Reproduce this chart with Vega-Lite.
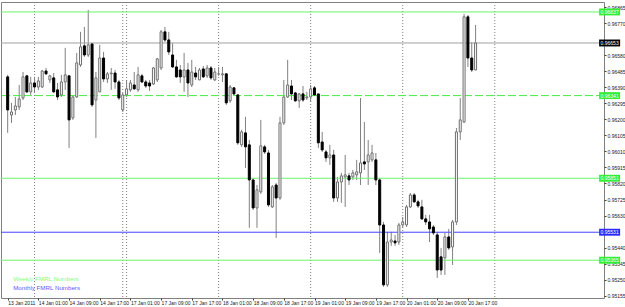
{
  "$schema": "https://vega.github.io/schema/vega-lite/v6.json",
  "width": 603,
  "height": 296,
  "autosize": {"type": "none"},
  "padding": {"left": 1, "top": 2, "right": 21, "bottom": 9},
  "background": "white",
  "config": {
    "view": {"stroke": "#808080", "strokeWidth": 1},
    "font": "Liberation Sans",
    "axis": {"grid": false, "labelOverlap": false}
  },
  "datasets": {
    "candles": [
      {"i":0,"o":0.96452,"h":0.96464,"l":0.96120,"c":0.96256},
      {"i":1,"o":0.96226,"h":0.96298,"l":0.96179,"c":0.96244},
      {"i":2,"o":0.96256,"h":0.96333,"l":0.96226,"c":0.96280},
      {"i":3,"o":0.96274,"h":0.96404,"l":0.96256,"c":0.96321},
      {"i":4,"o":0.96327,"h":0.96481,"l":0.96315,"c":0.96452},
      {"i":5,"o":0.96458,"h":0.96464,"l":0.96357,"c":0.96363},
      {"i":6,"o":0.96363,"h":0.96452,"l":0.96345,"c":0.96416},
      {"i":7,"o":0.96416,"h":0.96452,"l":0.96357,"c":0.96392},
      {"i":8,"o":0.96392,"h":0.96452,"l":0.96375,"c":0.96428},
      {"i":9,"o":0.96392,"h":0.96493,"l":0.96387,"c":0.96487},
      {"i":10,"o":0.96487,"h":0.96505,"l":0.96464,"c":0.96470},
      {"i":11,"o":0.96434,"h":0.96464,"l":0.96416,"c":0.96458},
      {"i":12,"o":0.96446,"h":0.96475,"l":0.96357,"c":0.96363},
      {"i":13,"o":0.96375,"h":0.96416,"l":0.96315,"c":0.96333},
      {"i":14,"o":0.96345,"h":0.96464,"l":0.96333,"c":0.96422},
      {"i":15,"o":0.96422,"h":0.96624,"l":0.96375,"c":0.96464},
      {"i":16,"o":0.96458,"h":0.96464,"l":0.96031,"c":0.96197},
      {"i":17,"o":0.96209,"h":0.96345,"l":0.96197,"c":0.96333},
      {"i":18,"o":0.96333,"h":0.96594,"l":0.96327,"c":0.96535},
      {"i":19,"o":0.96523,"h":0.96719,"l":0.96511,"c":0.96630},
      {"i":20,"o":0.96636,"h":0.96748,"l":0.96570,"c":0.96582},
      {"i":21,"o":0.96582,"h":0.96849,"l":0.96570,"c":0.96642},
      {"i":22,"o":0.96647,"h":0.96653,"l":0.96274,"c":0.96286},
      {"i":23,"o":0.96315,"h":0.96481,"l":0.96090,"c":0.96446},
      {"i":24,"o":0.96363,"h":0.96642,"l":0.96363,"c":0.96564},
      {"i":25,"o":0.96564,"h":0.96600,"l":0.96422,"c":0.96440},
      {"i":26,"o":0.96440,"h":0.96481,"l":0.96416,"c":0.96470},
      {"i":27,"o":0.96470,"h":0.96505,"l":0.96375,"c":0.96475},
      {"i":28,"o":0.96475,"h":0.96493,"l":0.96381,"c":0.96422},
      {"i":29,"o":0.96422,"h":0.96434,"l":0.96315,"c":0.96327},
      {"i":30,"o":0.96256,"h":0.96357,"l":0.96244,"c":0.96345},
      {"i":31,"o":0.96345,"h":0.96434,"l":0.96333,"c":0.96381},
      {"i":32,"o":0.96375,"h":0.96434,"l":0.96363,"c":0.96416},
      {"i":33,"o":0.96404,"h":0.96481,"l":0.96375,"c":0.96381},
      {"i":34,"o":0.96375,"h":0.96511,"l":0.96363,"c":0.96464},
      {"i":35,"o":0.96458,"h":0.96470,"l":0.96416,"c":0.96422},
      {"i":36,"o":0.96422,"h":0.96434,"l":0.96387,"c":0.96398},
      {"i":37,"o":0.96416,"h":0.96434,"l":0.96369,"c":0.96398},
      {"i":38,"o":0.96410,"h":0.96511,"l":0.96404,"c":0.96505},
      {"i":39,"o":0.96434,"h":0.96564,"l":0.96422,"c":0.96559},
      {"i":40,"o":0.96505,"h":0.96730,"l":0.96493,"c":0.96719},
      {"i":41,"o":0.96719,"h":0.96748,"l":0.96659,"c":0.96671},
      {"i":42,"o":0.96671,"h":0.96719,"l":0.96582,"c":0.96600},
      {"i":43,"o":0.96582,"h":0.96653,"l":0.96505,"c":0.96511},
      {"i":44,"o":0.96511,"h":0.96553,"l":0.96446,"c":0.96452},
      {"i":45,"o":0.96493,"h":0.96523,"l":0.96416,"c":0.96452},
      {"i":46,"o":0.96452,"h":0.96594,"l":0.96363,"c":0.96493},
      {"i":47,"o":0.96493,"h":0.96535,"l":0.96333,"c":0.96416},
      {"i":48,"o":0.96404,"h":0.96553,"l":0.96392,"c":0.96481},
      {"i":49,"o":0.96475,"h":0.96511,"l":0.96434,"c":0.96452},
      {"i":50,"o":0.96434,"h":0.96505,"l":0.96434,"c":0.96493},
      {"i":51,"o":0.96499,"h":0.96517,"l":0.96446,"c":0.96452},
      {"i":52,"o":0.96458,"h":0.96523,"l":0.96446,"c":0.96505},
      {"i":53,"o":0.96505,"h":0.96517,"l":0.96434,"c":0.96446},
      {"i":54,"o":0.96434,"h":0.96505,"l":0.96428,"c":0.96481},
      {"i":55,"o":0.96470,"h":0.96511,"l":0.96458,"c":0.96470},
      {"i":56,"o":0.96464,"h":0.96511,"l":0.96422,"c":0.96470},
      {"i":57,"o":0.96470,"h":0.96475,"l":0.96286,"c":0.96298},
      {"i":58,"o":0.96310,"h":0.96404,"l":0.96298,"c":0.96392},
      {"i":59,"o":0.96387,"h":0.96392,"l":0.96345,"c":0.96351},
      {"i":60,"o":0.96345,"h":0.96351,"l":0.96049,"c":0.96061},
      {"i":61,"o":0.96049,"h":0.96138,"l":0.96037,"c":0.96126},
      {"i":62,"o":0.96120,"h":0.96215,"l":0.95912,"c":0.96037},
      {"i":63,"o":0.96049,"h":0.96078,"l":0.95557,"c":0.95841},
      {"i":64,"o":0.95841,"h":0.95853,"l":0.95663,"c":0.95675},
      {"i":65,"o":0.95675,"h":0.95811,"l":0.95557,"c":0.95782},
      {"i":66,"o":0.95770,"h":0.96197,"l":0.95758,"c":0.96043},
      {"i":67,"o":0.96037,"h":0.96049,"l":0.95995,"c":0.96007},
      {"i":68,"o":0.96001,"h":0.96019,"l":0.95681,"c":0.95693},
      {"i":69,"o":0.95681,"h":0.95811,"l":0.95675,"c":0.95800},
      {"i":70,"o":0.95811,"h":0.95823,"l":0.95497,"c":0.95734},
      {"i":71,"o":0.95734,"h":0.96215,"l":0.95723,"c":0.96179},
      {"i":72,"o":0.96179,"h":0.96434,"l":0.96167,"c":0.96333},
      {"i":73,"o":0.96333,"h":0.96553,"l":0.96327,"c":0.96404},
      {"i":74,"o":0.96398,"h":0.96434,"l":0.96315,"c":0.96351},
      {"i":75,"o":0.96357,"h":0.96363,"l":0.96304,"c":0.96310},
      {"i":76,"o":0.96310,"h":0.96357,"l":0.96268,"c":0.96351},
      {"i":77,"o":0.96351,"h":0.96398,"l":0.96304,"c":0.96315},
      {"i":78,"o":0.96327,"h":0.96363,"l":0.96315,"c":0.96333},
      {"i":79,"o":0.96333,"h":0.96404,"l":0.96304,"c":0.96381},
      {"i":80,"o":0.96387,"h":0.96398,"l":0.96339,"c":0.96345},
      {"i":81,"o":0.96351,"h":0.96351,"l":0.96031,"c":0.96061},
      {"i":82,"o":0.96066,"h":0.96126,"l":0.96007,"c":0.96019},
      {"i":83,"o":0.96007,"h":0.96019,"l":0.95948,"c":0.95972},
      {"i":84,"o":0.95972,"h":0.96049,"l":0.95930,"c":0.95989},
      {"i":85,"o":0.95989,"h":0.96019,"l":0.95711,"c":0.95734},
      {"i":86,"o":0.95734,"h":0.95859,"l":0.95711,"c":0.95829},
      {"i":87,"o":0.95829,"h":0.95883,"l":0.95705,"c":0.95865},
      {"i":88,"o":0.95859,"h":0.95989,"l":0.95681,"c":0.95871},
      {"i":89,"o":0.95865,"h":0.95883,"l":0.95811,"c":0.95841},
      {"i":90,"o":0.95859,"h":0.95900,"l":0.95841,"c":0.95883},
      {"i":91,"o":0.95871,"h":0.95960,"l":0.95841,"c":0.95889},
      {"i":92,"o":0.95883,"h":0.96327,"l":0.95811,"c":0.95942},
      {"i":93,"o":0.95948,"h":0.96185,"l":0.95900,"c":0.95936},
      {"i":94,"o":0.95948,"h":0.96078,"l":0.95811,"c":0.95989},
      {"i":95,"o":0.95960,"h":0.96049,"l":0.95948,"c":0.96001},
      {"i":96,"o":0.95960,"h":0.96001,"l":0.95811,"c":0.95841},
      {"i":97,"o":0.95841,"h":0.95853,"l":0.95408,"c":0.95574},
      {"i":98,"o":0.95574,"h":0.95592,"l":0.95207,"c":0.95219},
      {"i":99,"o":0.95219,"h":0.95533,"l":0.95207,"c":0.95473},
      {"i":100,"o":0.95473,"h":0.95533,"l":0.95450,"c":0.95485},
      {"i":101,"o":0.95479,"h":0.95515,"l":0.95450,"c":0.95468},
      {"i":102,"o":0.95473,"h":0.95586,"l":0.95456,"c":0.95574},
      {"i":103,"o":0.95574,"h":0.95622,"l":0.95557,"c":0.95592},
      {"i":104,"o":0.95574,"h":0.95693,"l":0.95562,"c":0.95681},
      {"i":105,"o":0.95681,"h":0.95764,"l":0.95675,"c":0.95752},
      {"i":106,"o":0.95752,"h":0.95764,"l":0.95705,"c":0.95711},
      {"i":107,"o":0.95711,"h":0.95723,"l":0.95675,"c":0.95687},
      {"i":108,"o":0.95681,"h":0.95723,"l":0.95604,"c":0.95610},
      {"i":109,"o":0.95610,"h":0.95634,"l":0.95574,"c":0.95592},
      {"i":110,"o":0.95592,"h":0.95634,"l":0.95473,"c":0.95551},
      {"i":111,"o":0.95562,"h":0.95574,"l":0.95515,"c":0.95527},
      {"i":112,"o":0.95515,"h":0.95533,"l":0.95260,"c":0.95307},
      {"i":113,"o":0.95385,"h":0.95438,"l":0.95278,"c":0.95307},
      {"i":114,"o":0.95379,"h":0.95527,"l":0.95278,"c":0.95503},
      {"i":115,"o":0.95503,"h":0.95551,"l":0.95426,"c":0.95438},
      {"i":116,"o":0.95444,"h":0.95604,"l":0.95337,"c":0.95592},
      {"i":117,"o":0.95592,"h":0.96149,"l":0.95574,"c":0.96126},
      {"i":118,"o":0.96126,"h":0.96327,"l":0.96078,"c":0.96197},
      {"i":119,"o":0.96185,"h":0.96825,"l":0.96179,"c":0.96808},
      {"i":120,"o":0.96808,"h":0.96819,"l":0.96511,"c":0.96564},
      {"i":121,"o":0.96564,"h":0.96659,"l":0.96481,"c":0.96493},
      {"i":122,"o":0.96493,"h":0.96760,"l":0.96493,"c":0.96653}
    ],
    "levels": [
      {"p": 0.96837, "kind": "Weekly FMRL Numbers"},
      {"p": 0.95851, "kind": "Weekly FMRL Numbers"},
      {"p": 0.95365, "kind": "Weekly FMRL Numbers"},
      {"p": 0.95531, "kind": "Monthly FMRL Numbers"}
    ],
    "seps": [{"i": 7}, {"i": 30}, {"i": 31}, {"i": 55}, {"i": 79}, {"i": 103}, {"i": 127}],
    "tags": [
      {"p": 0.96837, "label": "0.96837", "kind": "Weekly"},
      {"p": 0.96653, "label": "0.96653", "kind": "Bid"},
      {"p": 0.96341, "label": "0.96341", "kind": "Weekly"},
      {"p": 0.95851, "label": "0.95851", "kind": "Weekly"},
      {"p": 0.95531, "label": "0.95531", "kind": "Monthly"},
      {"p": 0.95365, "label": "0.95365", "kind": "Weekly"}
    ]
  },
  "layer": [
    {
      "data": {"name": "candles"},
      "mark": {"type": "rule", "color": "#808080", "strokeWidth": 1},
      "encoding": {
        "x": {
          "field": "i", "type": "quantitative",
          "scale": {"domain": [-0.44, 154.18], "nice": false, "zero": false},
          "axis": {
            "orient": "bottom",
            "values": [0, 8, 16, 24, 32, 40, 48, 56, 64, 72, 80, 88, 96, 104, 112, 120],
            "tickCount": 40,
            "labelExpr": "['13 Jan 2011','14 Jan 01:00','14 Jan 09:00','14 Jan 17:00','17 Jan 01:00','17 Jan 09:00','17 Jan 17:00','18 Jan 01:00','18 Jan 09:00','18 Jan 17:00','19 Jan 01:00','19 Jan 09:00','19 Jan 17:00','20 Jan 01:00','20 Jan 09:00','20 Jan 17:00'][round(datum.value/8)]",
            "labelAlign": "left",
            "labelFontSize": 5,
            "labelColor": "#202020",
            "labelPadding": 0,
            "labelOverlap": false,
            "labelFlush": false,
            "tickSize": 2,
            "tickColor": "#404040",
            "domain": false,
            "title": null
          }
        },
        "y": {
          "field": "l", "type": "quantitative",
          "scale": {"domain": [0.95141, 0.96896], "nice": false, "zero": false},
          "axis": {
            "orient": "right",
            "values": [0.96865, 0.96770, 0.96580, 0.96485, 0.96390, 0.96295, 0.96200, 0.96105, 0.96010, 0.95915, 0.95820, 0.95725, 0.95630, 0.95440, 0.95345, 0.95250, 0.95155],
            "tickCount": 40,
            "format": ".5f",
            "labelFontSize": 5,
            "labelColor": "#202020",
            "labelPadding": 1,
            "labelOverlap": false,
            "labelFlush": false,
            "labelBound": false,
            "tickSize": 2,
            "tickColor": "#404040",
            "domain": false,
            "title": null
          }
        },
        "y2": {"field": "h"}
      }
    },
    {
      "data": {"name": "seps"},
      "mark": {"type": "rule", "strokeDash": [1, 2], "color": "#808080", "strokeWidth": 1},
      "encoding": {
        "x": {"field": "i", "type": "quantitative"}
      }
    },
    {
      "data": {"name": "levels"},
      "mark": {"type": "rule", "strokeWidth": 1},
      "encoding": {
        "y": {"field": "p", "type": "quantitative"},
        "color": {
          "field": "kind", "type": "nominal",
          "scale": {"domain": ["Weekly FMRL Numbers", "Monthly FMRL Numbers"], "range": ["#6cf56c", "#4444ff"]},
          "legend": {
            "orient": "bottom-left",
            "offset": 6,
            "title": null,
            "padding": 0,
            "symbolSize": 0,
            "symbolStrokeWidth": 0,
            "symbolOpacity": 0,
            "labelOffset": 0,
            "labelFontSize": 6.2,
            "labelFont": "Liberation Sans",
            "rowPadding": 2,
            "encode": {
              "labels": {
                "update": {
                  "fill": {"signal": "datum.value == 'Weekly FMRL Numbers' ? '#7fff7f' : '#5a5aff'"}
                }
              }
            }
          }
        }
      }
    },
    {
      "data": {"values": [{"p": 0.96341}]},
      "mark": {"type": "rule", "strokeDash": [8, 3], "color": "#44ee44", "strokeWidth": 1},
      "encoding": {"y": {"field": "p", "type": "quantitative"}}
    },
    {
      "data": {"values": [{"p": 0.96653}]},
      "mark": {"type": "rule", "color": "#a0a0a0", "strokeWidth": 1},
      "encoding": {"y": {"field": "p", "type": "quantitative"}}
    },
    {
      "data": {"name": "candles"},
      "mark": {"type": "bar", "size": 2, "strokeWidth": 1},
      "encoding": {
        "x": {"field": "i", "type": "quantitative"},
        "y": {"field": "o", "type": "quantitative"},
        "y2": {"field": "c"},
        "fill": {"condition": {"test": "datum.c < datum.o", "value": "#000000"}, "value": "#ffffff"},
        "stroke": {"condition": {"test": "datum.c < datum.o", "value": "#000000"}, "value": "#6e6e6e"}
      }
    },
    {
      "data": {"name": "tags"},
      "mark": {"type": "point", "shape": "M-1,-0.33H1V0.33H-1Z", "filled": true, "size": 441, "opacity": 1, "strokeWidth": 0},
      "encoding": {
        "x": {"datum": 156.95, "type": "quantitative"},
        "y": {"field": "p", "type": "quantitative"},
        "fill": {
          "field": "kind", "type": "nominal",
          "scale": {"domain": ["Weekly", "Monthly", "Bid"], "range": ["#33ee33", "#2b2bff", "#000000"]},
          "legend": null
        }
      }
    },
    {
      "data": {"name": "tags"},
      "mark": {"type": "text", "fontSize": 5, "color": "#ffffff", "align": "center", "baseline": "middle"},
      "encoding": {
        "x": {"datum": 156.95, "type": "quantitative"},
        "y": {"field": "p", "type": "quantitative"},
        "text": {"field": "label"}
      }
    }
  ]
}
